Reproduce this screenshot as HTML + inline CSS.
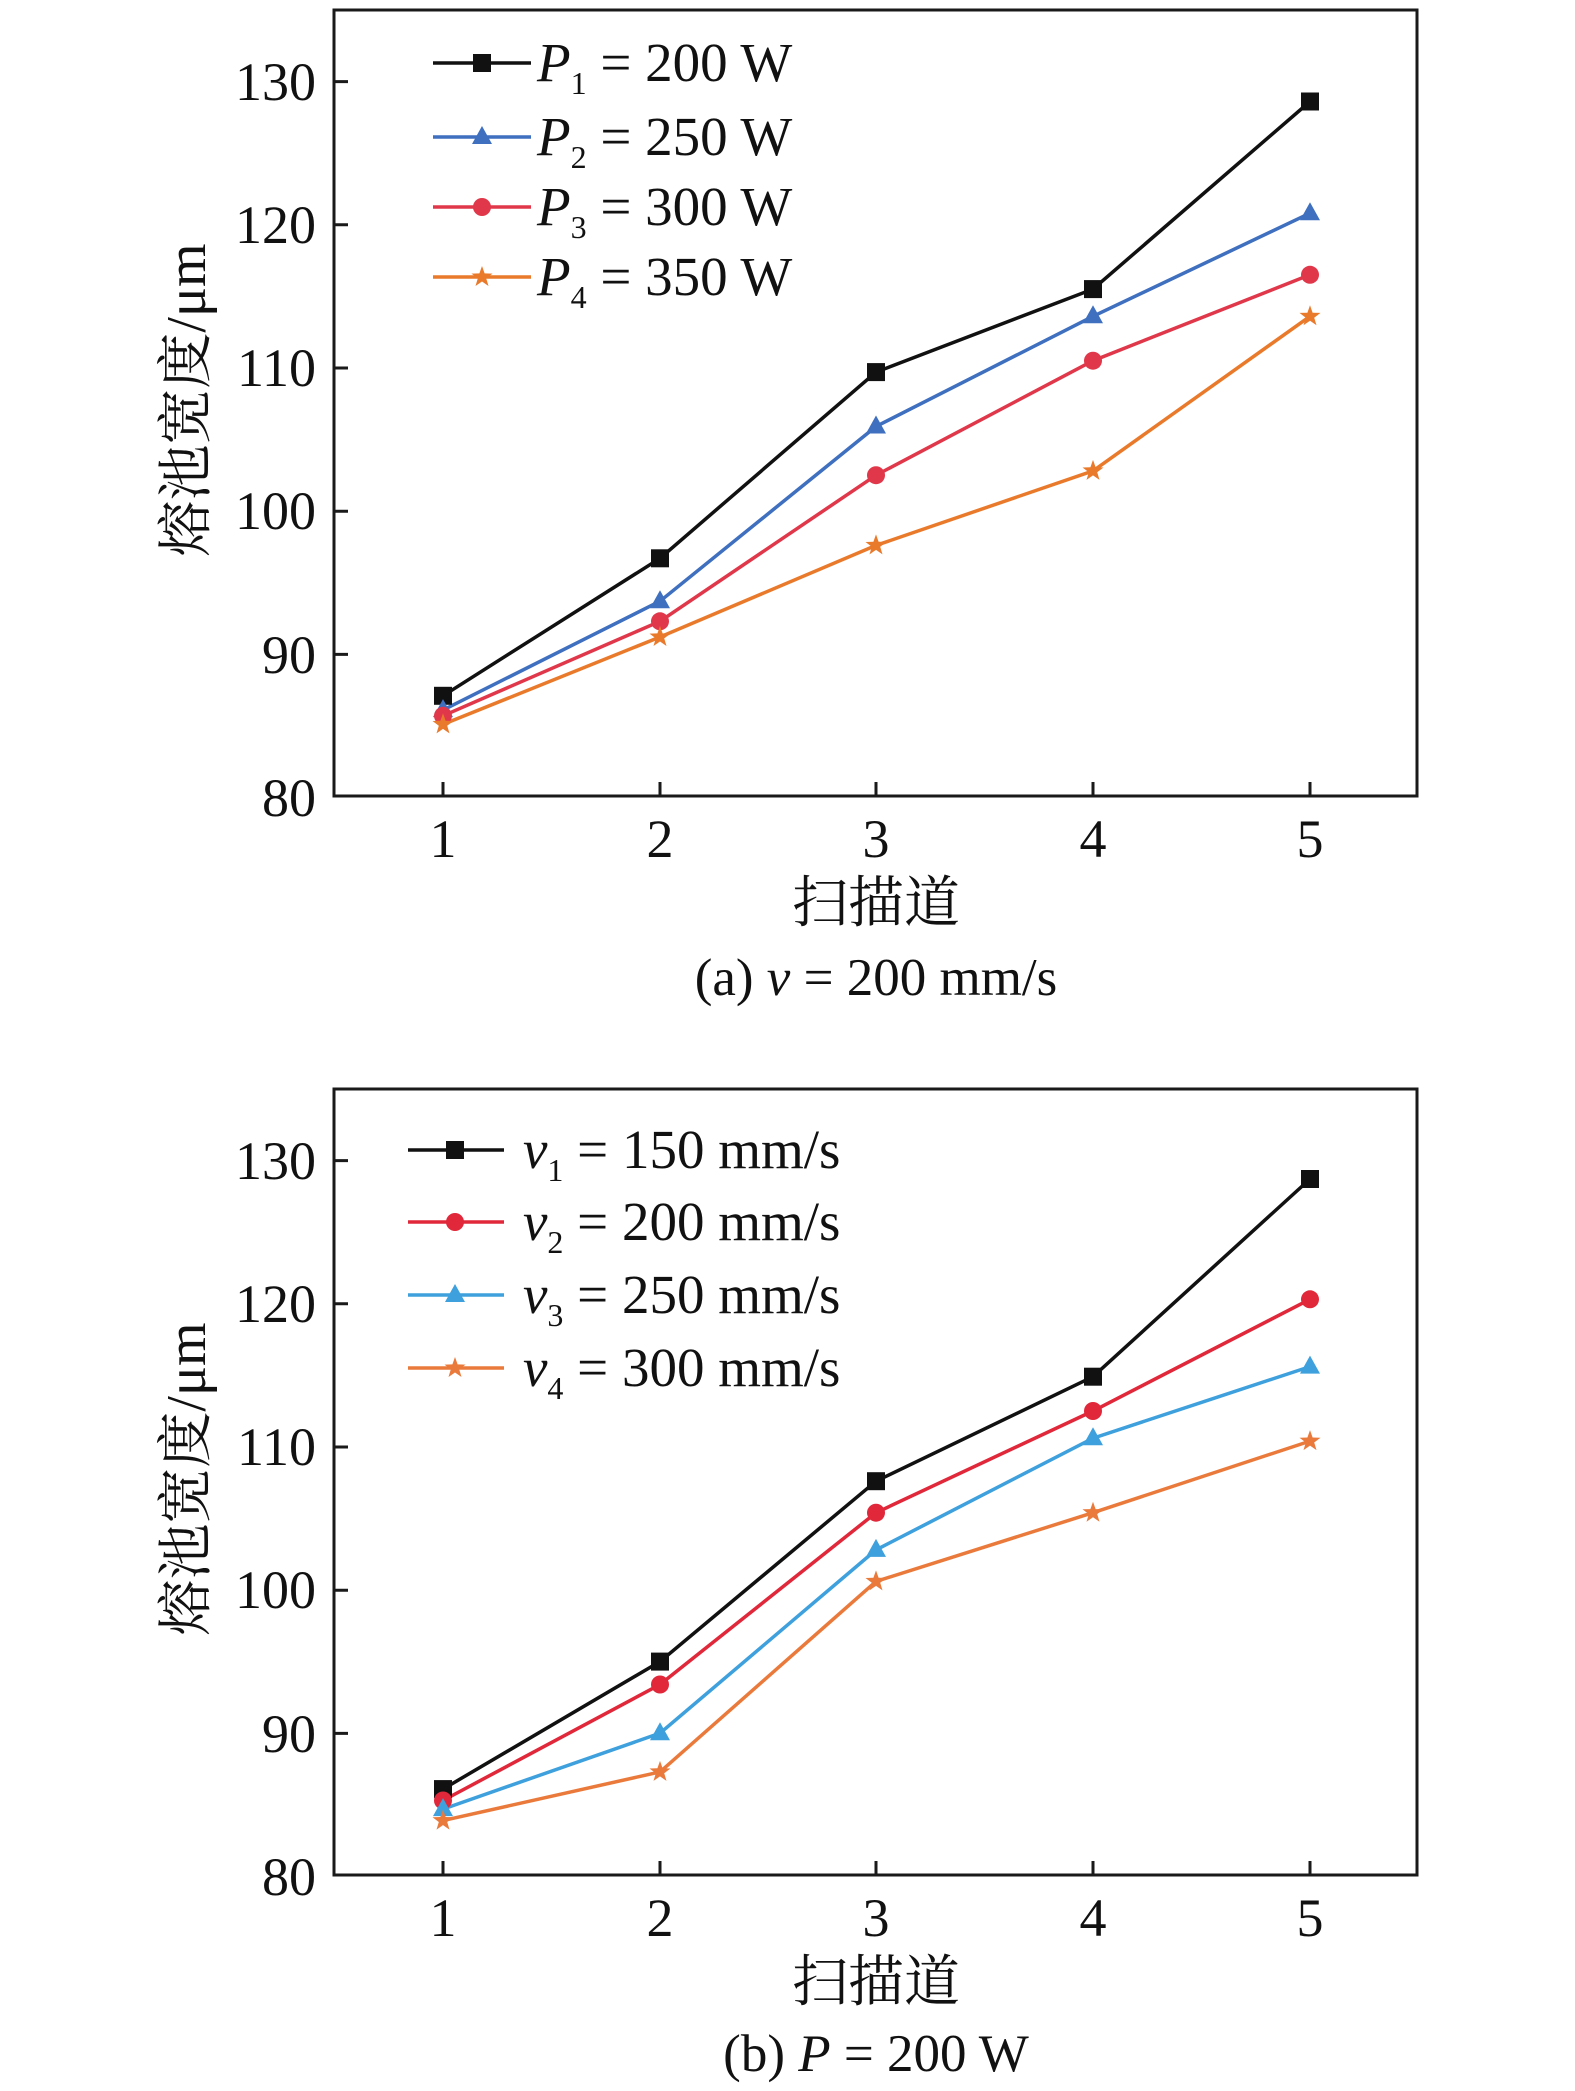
<!DOCTYPE html>
<html><head><meta charset="utf-8"><style>
html,body{margin:0;padding:0;background:#fff;}
svg{display:block;}
text{font-family:"Liberation Serif","Noto Serif CJK SC",serif;fill:#111;}
</style></head><body>
<svg width="1575" height="2091" viewBox="0 0 1575 2091" xmlns="http://www.w3.org/2000/svg">
<defs>
<rect id="sq" x="-9" y="-9" width="18" height="18"/>
<circle id="ci" r="9"/>
<polygon id="tr" points="0,-11 10,7 -10,7"/>
<polygon id="st" points="0,-11 2.6,-3.6 10.5,-3.4 4.2,1.4 6.5,9 0,4.5 -6.5,9 -4.2,1.4 -10.5,-3.4 -2.6,-3.6"/>
</defs>

<!-- Panel a -->
<g stroke="#1a1a1a" stroke-width="3" fill="none">
<rect x="334" y="10" width="1083" height="786"/>
<path d="M334 81.6h14M334 224.8h14M334 368h14M334 511.2h14M334 654.4h14"/>
<path d="M443 796v-14M660 796v-14M876 796v-14M1093 796v-14M1310 796v-14"/>
</g>
<g font-size="54" text-anchor="end">
<text x="316" y="100">130</text><text x="316" y="243">120</text><text x="316" y="386">110</text>
<text x="316" y="529">100</text><text x="316" y="673">90</text><text x="316" y="816">80</text>
</g>
<g font-size="54" text-anchor="middle">
<text x="443" y="857">1</text><text x="660" y="857">2</text><text x="876" y="857">3</text><text x="1093" y="857">4</text><text x="1310" y="857">5</text>
<text x="876" y="922" font-size="56">扫描道</text>
<text x="876" y="995" font-size="53">(a) <tspan font-style="italic">v</tspan> = 200 mm/s</text>
</g>
<text font-size="56" text-anchor="middle" transform="translate(205,400) rotate(-90)">熔池宽度/μm</text>

<g fill="none" stroke-width="3.5">
<polyline stroke="#111" points="443,695.8 660,558.3 876,372.1 1093,289.1 1310,101.5"/>
<polyline stroke="#3f6fbf" points="443,710.1 660,601.2 876,426.5 1093,316.3 1310,213.2"/>
<polyline stroke="#e0384a" points="443,715.8 660,621.3 876,475.2 1093,360.7 1310,274.8"/>
<polyline stroke="#ea7a2b" points="443,724.4 660,637 876,545.4 1093,470.9 1310,316.3"/>
</g>
<g fill="#111"><use href="#sq" x="443" y="695.8"/><use href="#sq" x="660" y="558.3"/><use href="#sq" x="876" y="372.1"/><use href="#sq" x="1093" y="289.1"/><use href="#sq" x="1310" y="101.5"/></g>
<g fill="#3f6fbf"><use href="#tr" x="443" y="710.1"/><use href="#tr" x="660" y="601.2"/><use href="#tr" x="876" y="426.5"/><use href="#tr" x="1093" y="316.3"/><use href="#tr" x="1310" y="213.2"/></g>
<g fill="#e0384a"><use href="#ci" x="443" y="715.8"/><use href="#ci" x="660" y="621.3"/><use href="#ci" x="876" y="475.2"/><use href="#ci" x="1093" y="360.7"/><use href="#ci" x="1310" y="274.8"/></g>
<g fill="#ea7a2b"><use href="#st" x="443" y="724.4"/><use href="#st" x="660" y="637"/><use href="#st" x="876" y="545.4"/><use href="#st" x="1093" y="470.9"/><use href="#st" x="1310" y="316.3"/></g>

<!-- legend a -->
<g stroke-width="3.5">
<line x1="433" y1="63" x2="531" y2="63" stroke="#111"/>
<line x1="433" y1="137" x2="531" y2="137" stroke="#3f6fbf"/>
<line x1="433" y1="207" x2="531" y2="207" stroke="#e0384a"/>
<line x1="433" y1="277" x2="531" y2="277" stroke="#ea7a2b"/>
</g>
<use href="#sq" x="482" y="63" fill="#111"/><use href="#tr" x="482" y="137" fill="#3f6fbf"/><use href="#ci" x="482" y="207" fill="#e0384a"/><use href="#st" x="482" y="277" fill="#ea7a2b"/>
<g font-size="55">
<text x="537" y="81"><tspan font-style="italic">P</tspan><tspan font-size="32" dy="13">1</tspan><tspan dy="-13"> = 200 W</tspan></text>
<text x="537" y="155"><tspan font-style="italic">P</tspan><tspan font-size="32" dy="13">2</tspan><tspan dy="-13"> = 250 W</tspan></text>
<text x="537" y="225"><tspan font-style="italic">P</tspan><tspan font-size="32" dy="13">3</tspan><tspan dy="-13"> = 300 W</tspan></text>
<text x="537" y="295"><tspan font-style="italic">P</tspan><tspan font-size="32" dy="13">4</tspan><tspan dy="-13"> = 350 W</tspan></text>
</g>

<!-- Panel b -->
<g stroke="#1a1a1a" stroke-width="3" fill="none">
<rect x="334" y="1089" width="1083" height="786"/>
<path d="M334 1160.6h14M334 1303.8h14M334 1447h14M334 1590.2h14M334 1733.4h14"/>
<path d="M443 1875v-14M660 1875v-14M876 1875v-14M1093 1875v-14M1310 1875v-14"/>
</g>
<g font-size="54" text-anchor="end">
<text x="316" y="1179">130</text><text x="316" y="1322">120</text><text x="316" y="1465">110</text>
<text x="316" y="1608">100</text><text x="316" y="1752">90</text><text x="316" y="1895">80</text>
</g>
<g font-size="54" text-anchor="middle">
<text x="443" y="1936">1</text><text x="660" y="1936">2</text><text x="876" y="1936">3</text><text x="1093" y="1936">4</text><text x="1310" y="1936">5</text>
<text x="876" y="2001" font-size="56">扫描道</text>
<text x="876" y="2071" font-size="53">(b) <tspan font-style="italic">P</tspan> = 200 W</text>
</g>
<text font-size="56" text-anchor="middle" transform="translate(205,1479) rotate(-90)">熔池宽度/μm</text>

<g fill="none" stroke-width="3.5">
<polyline stroke="#111" points="443,1789.1 660,1661.6 876,1481.2 1093,1376.7 1310,1179"/>
<polyline stroke="#e0283a" points="443,1800.5 660,1684.5 876,1512.7 1093,1411 1310,1299.3"/>
<polyline stroke="#3ea0dc" points="443,1809.1 660,1733.2 876,1549.9 1093,1438.2 1310,1366.6"/>
<polyline stroke="#ea7a3b" points="443,1820.6 660,1771.9 876,1581.4 1093,1512.7 1310,1441.1"/>
</g>
<g fill="#111"><use href="#sq" x="443" y="1789.1"/><use href="#sq" x="660" y="1661.6"/><use href="#sq" x="876" y="1481.2"/><use href="#sq" x="1093" y="1376.7"/><use href="#sq" x="1310" y="1179"/></g>
<g fill="#e0283a"><use href="#ci" x="443" y="1800.5"/><use href="#ci" x="660" y="1684.5"/><use href="#ci" x="876" y="1512.7"/><use href="#ci" x="1093" y="1411"/><use href="#ci" x="1310" y="1299.3"/></g>
<g fill="#3ea0dc"><use href="#tr" x="443" y="1809.1"/><use href="#tr" x="660" y="1733.2"/><use href="#tr" x="876" y="1549.9"/><use href="#tr" x="1093" y="1438.2"/><use href="#tr" x="1310" y="1366.6"/></g>
<g fill="#ea7a3b"><use href="#st" x="443" y="1820.6"/><use href="#st" x="660" y="1771.9"/><use href="#st" x="876" y="1581.4"/><use href="#st" x="1093" y="1512.7"/><use href="#st" x="1310" y="1441.1"/></g>

<!-- legend b -->
<g stroke-width="3.5">
<line x1="408" y1="1150" x2="504" y2="1150" stroke="#111"/>
<line x1="408" y1="1222" x2="504" y2="1222" stroke="#e0283a"/>
<line x1="408" y1="1295" x2="504" y2="1295" stroke="#3ea0dc"/>
<line x1="408" y1="1368" x2="504" y2="1368" stroke="#ea7a3b"/>
</g>
<use href="#sq" x="455" y="1150" fill="#111"/><use href="#ci" x="455" y="1222" fill="#e0283a"/><use href="#tr" x="455" y="1295" fill="#3ea0dc"/><use href="#st" x="455" y="1368" fill="#ea7a3b"/>
<g font-size="55">
<text x="523" y="1168"><tspan font-style="italic">v</tspan><tspan font-size="32" dy="13">1</tspan><tspan dy="-13"> = 150 mm/s</tspan></text>
<text x="523" y="1240"><tspan font-style="italic">v</tspan><tspan font-size="32" dy="13">2</tspan><tspan dy="-13"> = 200 mm/s</tspan></text>
<text x="523" y="1313"><tspan font-style="italic">v</tspan><tspan font-size="32" dy="13">3</tspan><tspan dy="-13"> = 250 mm/s</tspan></text>
<text x="523" y="1386"><tspan font-style="italic">v</tspan><tspan font-size="32" dy="13">4</tspan><tspan dy="-13"> = 300 mm/s</tspan></text>
</g>
</svg>
</body></html>
